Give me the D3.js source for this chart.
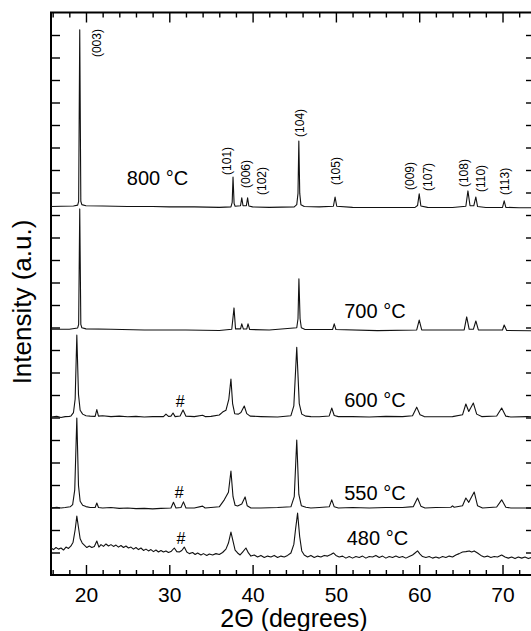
<!DOCTYPE html>
<html>
<head>
<meta charset="utf-8">
<script src="https://cdn.jsdelivr.net/npm/d3@7"></script>
<style>
  body { margin: 0; overflow: hidden; background: #fff; }
  text { font-family: "Liberation Sans", Arial, Helvetica, sans-serif; fill: #000; }
</style>
</head>
<body>
<svg class="xrd"></svg>
<script>
'use strict';

// patterns: [2theta, intensity above the pattern's own baseline] (a.u.)
var temperatures = ['800', '700', '600', '550', '480'];
var offsets = [163.6, 108.9, 70.2, 29.8, 11.1];

var pattern800 = [
  [15.8, 0.2], [17, 0.3], [18.5, 0.4], [19.0, 0.8], [19.12, 2.5], [19.25, 78.7], [19.38, 2.5], [19.5, 1.0],
  [20, 0.5], [22, 0.4], [25, 0.2], [28, 0.2], [30, 0], [33, 0], [36, -0.2], [37.4, 0], [37.55, 2],
  [37.65, 13.3], [37.78, 1.5], [37.9, 0.3], [38.55, 0.5], [38.7, 4], [38.85, 0.5], [39.25, 0.5], [39.4, 4],
  [39.55, 0.4], [40, 0], [42, -0.2], [45, 0], [45.3, 1], [45.45, 6], [45.55, 29.3], [45.66, 6], [45.8, 1],
  [46.2, 0.2], [48, 0], [49.7, 0.3], [49.9, 4.4], [50.1, 0.3], [52, -0.2], [55, -0.3], [59.5, -0.2],
  [59.8, 0.6], [60.0, 5.8], [60.2, 0.4], [61, -0.2], [64, -0.3], [65.6, 0.3], [65.85, 7.1], [66.1, 0.5],
  [66.55, 0.5], [66.8, 4.4], [67.0, 0.2], [68, -0.3], [70, -0.2], [70.2, 2.7], [70.4, -0.2], [72, -0.4], [73.9, -0.4]
];

var pattern700 = [
  [15.8, 0.3], [18, 0.3], [19.0, 0.9], [19.12, 2.5], [19.25, 53.8], [19.38, 2.5], [19.5, 1], [20, 0.5],
  [23, 0.3], [27, 0], [32, 0], [36, -0.2], [37.5, 0.3], [37.77, 9.8], [37.95, 0.5], [38.55, 0.5],
  [38.7, 2.7], [38.9, 0.4], [39.3, 0.5], [39.45, 2.7], [39.65, 0.2], [42, 0], [45.3, 1], [45.45, 5],
  [45.56, 22.7], [45.7, 5], [45.85, 1], [46.3, 0.2], [49.6, 0.2], [49.8, 2.7], [50.0, 0.2], [55, -0.3],
  [59.7, 0], [60.0, 4.4], [60.3, 0], [65.4, 0], [65.7, 5.8], [66.0, 0.3], [66.5, 0.3], [66.8, 4],
  [67.1, 0], [70.0, 0], [70.2, 2.2], [70.5, -0.2], [73.9, -0.4]
];

var pattern600 = [
  [15.8, 0], [16.5, 0.3], [17, -0.2], [17.5, 0.2], [18, 0.3], [18.2, 0.5], [18.5, 2], [18.7, 8],
  [18.9, 36.4], [19.1, 10], [19.3, 3], [19.6, 1.3], [20, 0.6], [20.5, 0.4], [21.1, 0.3], [21.3, 3.3],
  [21.5, 0.4], [22, 0.6], [23, 0.2], [24, 0.4], [25, 0.1], [26, 0.3], [27, 0], [28, 0.2], [29.3, 0.2],
  [29.6, 1.3], [29.9, 0.3], [30.2, 0.4], [30.45, 1.8], [30.7, 0.2], [31.3, 0.5], [31.65, 3.1], [32, 0.4],
  [33, 0.2], [34, 0.8], [34.3, 0.2], [35, 0.3], [36, 0.9], [36.4, 2.2], [36.8, 3], [37.15, 8],
  [37.4, 16.9], [37.6, 6], [37.85, 1.5], [38.3, 1.3], [38.6, 2], [39.0, 4.9], [39.3, 1.5], [39.7, 0.4],
  [41, 0.2], [43, 0], [44.6, 0.6], [44.95, 5], [45.3, 31], [45.6, 6], [45.9, 1.3], [46.4, 0.4], [47, 0.2],
  [48, 0.1], [49.2, 0.5], [49.5, 4], [49.8, 0.7], [50.3, 0.2], [52, 0.2], [54, 0], [56, 0.3], [58, 0.2],
  [59.2, 0.6], [59.7, 4.4], [60.1, 1], [60.6, 0.2], [62, 0.1], [64, 0.2], [65.2, 1], [65.6, 5.8],
  [65.95, 2.5], [66.5, 6.2], [66.9, 1.3], [67.5, 0.2], [69.3, 0.5], [69.9, 4], [70.4, 0.4], [71, 0],
  [73, 0.2], [73.9, 0]
];

var pattern550 = [
  [15.8, 0], [16.5, 0.3], [17, 0], [17.5, 0.2], [18.1, 0.5], [18.4, 1.5], [18.65, 8], [18.9, 40],
  [19.1, 10], [19.3, 3], [19.6, 1.2], [20, 0.6], [20.5, 0.2], [21.1, 0.2], [21.3, 2.2], [21.5, 0.2],
  [22, 0], [23, 0.2], [24, -0.2], [25, 0], [26, -0.3], [27, -0.2], [28, -0.4], [29, -0.2], [30.2, 0],
  [30.5, 2.5], [30.8, 0], [31.4, 0.2], [31.7, 2.7], [32, 0], [33, 0], [34, 0.8], [34.3, 0], [35, 0.2],
  [36, 0.5], [36.6, 3.6], [37.1, 7], [37.4, 16.4], [37.65, 5], [37.9, 1.2], [38.2, 0.9], [38.7, 1.8],
  [39.1, 4.9], [39.35, 1], [39.8, 0], [41, 0], [43, 0.2], [44.6, 0.5], [45.0, 5], [45.3, 30.2],
  [45.55, 6], [45.85, 1], [46.4, 0.3], [47, 0], [48, 0.2], [49.2, 0.5], [49.5, 3.6], [49.8, 0.5],
  [50.3, 0], [52, 0.2], [54, 0], [56, 0.2], [58, 0.2], [59.3, 0.6], [59.8, 4.4], [60.2, 0.8], [60.7, 0],
  [62, 0.2], [63.8, 0.3], [64.0, 0.9], [64.2, 0.3], [65.2, 1], [65.6, 4.4], [65.95, 2.5], [66.6, 7.1],
  [67, 1], [67.6, 0], [69.3, 0.4], [69.9, 3.6], [70.4, 0.3], [71, 0], [73, 0], [73.9, -0.2]
];

var pattern480 = [
  [15.8, 0.9], [16.1, 0.2], [16.4, 1.1], [16.7, 0.4], [17.0, 0.9], [17.3, 0.0], [17.6, 1.3], [17.9, 0.7],
  [18.2, 1.8], [18.45, 3.5], [18.7, 9], [18.9, 15.1], [19.1, 10], [19.3, 5], [19.55, 3.1], [19.8, 2.2],
  [20.1, 1.1], [20.4, 1.8], [20.7, 1.1], [21.0, 1.6], [21.3, 4.0], [21.55, 1.3], [21.8, 2.4], [22.1, 1.6],
  [22.4, 2.7], [22.7, 1.8], [23.0, 2.4], [23.3, 1.6], [23.6, 2.2], [23.9, 1.3], [24.2, 2.0], [24.5, 1.1],
  [24.8, 1.8], [25.1, 0.9], [25.4, 1.3], [25.7, 0.4], [26.0, 1.1], [26.3, 0.2], [26.6, 0.9], [26.9, -0.2],
  [27.2, 0.4], [27.5, -0.4], [27.8, 0.2], [28.1, -0.7], [28.4, 0.0], [28.7, -0.9], [29.0, -0.2],
  [29.3, -0.9], [29.6, -0.4], [29.9, -1.1], [30.2, -0.7], [30.6, 0.9], [30.9, -0.7], [31.2, -0.9],
  [31.5, -0.2], [31.8, 1.3], [32.1, -0.9], [32.4, -1.6], [32.8, -1.1], [33.1, -2.0], [33.4, -1.3],
  [33.8, -2.2], [34.1, -1.6], [34.5, -2.4], [34.8, -1.8], [35.2, -2.2], [35.6, -1.6], [36.0, -2.0],
  [36.4, -1.1], [36.8, 0.4], [37.1, 3.1], [37.4, 8.0], [37.65, 4.0], [37.9, 0.0], [38.2, -1.3],
  [38.5, -2.2], [38.8, -0.9], [39.2, 0.9], [39.5, -1.3], [39.8, -2.7], [40.2, -2.2], [40.6, -3.1],
  [41.0, -2.4], [41.4, -3.3], [41.8, -2.7], [42.2, -3.1], [42.6, -2.4], [43.0, -3.3], [43.4, -2.7],
  [43.8, -3.1], [44.2, -2.4], [44.6, -1.3], [44.95, 2.5], [45.15, 9], [45.4, 16.4], [45.65, 6],
  [45.9, -0.4], [46.2, -2.2], [46.6, -3.1], [47.0, -2.4], [47.4, -3.3], [47.8, -2.7], [48.2, -3.1],
  [48.6, -2.4], [49.0, -2.7], [49.4, -2.0], [49.7, -1.3], [50.0, -2.4], [50.4, -3.1], [50.8, -2.7],
  [51.2, -3.6], [51.6, -2.9], [52.0, -3.6], [52.4, -2.9], [52.8, -3.3], [53.2, -2.7], [53.6, -3.6],
  [54.0, -2.9], [54.4, -3.1], [54.8, -2.4], [55.2, -3.3], [55.6, -2.7], [56.0, -3.6], [56.4, -2.9],
  [56.8, -3.3], [57.2, -2.7], [57.6, -3.3], [58.0, -2.9], [58.4, -3.6], [58.8, -2.9], [59.2, -2.2],
  [59.5, -1.3], [59.8, -0.4], [60.1, -1.8], [60.4, -2.9], [60.8, -3.3], [61.2, -2.9], [61.6, -3.6],
  [62.0, -3.1], [62.4, -3.6], [62.8, -2.9], [63.2, -3.3], [63.6, -2.7], [64.0, -3.1], [64.4, -2.2],
  [64.8, -1.6], [65.2, -0.9], [65.6, -0.7], [66.0, -0.4], [66.3, -0.9], [66.6, -0.4], [67.0, -1.3],
  [67.4, -2.4], [67.8, -3.1], [68.2, -2.7], [68.6, -3.3], [69.0, -2.9], [69.4, -3.1], [69.9, -2.2],
  [70.3, -3.1], [70.7, -3.6], [71.1, -3.1], [71.5, -3.8], [71.9, -3.1], [72.3, -3.6], [72.7, -3.1],
  [73.1, -3.8], [73.5, -3.3], [73.9, -3.6]
];

var patterns = [pattern800, pattern700, pattern600, pattern550, pattern480];

// reflection labels on the 800 C pattern: [hkl, 2theta, bottom of label (a.u.)]
var reflections = [
  ['(003)', 21.3, 230.2], ['(101)', 36.9, 177.8], ['(006)', 39.2, 172.0], ['(102)', 41.1, 168.9],
  ['(104)', 45.7, 194.7], ['(105)', 50.0, 173.3], ['(009)', 58.9, 171.1], ['(107)', 61.1, 170.7],
  ['(108)', 65.4, 172.4], ['(110)', 67.4, 170.2], ['(113)', 70.3, 168.9]
];

// temperature labels: [2theta of text start, baseline (a.u.)]
var tempLabelPos = [[24.9, 173.3], [51.0, 114.2], [51.0, 74.7], [51.0, 33.3], [51.3, 13.3]];

// impurity marks
var hashMarks = [[31.3, 74.7], [31.2, 34.2], [31.4, 13.8]];

var xMajor = [20, 30, 40, 50, 60, 70];
var xMinor = [16, 18, 22, 24, 26, 28, 32, 34, 36, 38, 42, 44, 46, 48, 52, 54, 56, 58, 62, 64, 66, 68, 72];
var yTicks = d3.range(10, 250, 10);

var plotLeft = 51, plotRight = 535, plotTop = 12.5, plotBottom = 575;

var svg = d3.select('.xrd')
    .attr('width', 545)
    .attr('height', 631);

var x = d3.scaleLinear().domain([15.8, 73.9]).range([plotLeft, plotRight]);
var y = d3.scaleLinear().domain([0, 250]).range([plotBottom, plotTop]);

function styleAxis (g) {
    g.select('.domain').remove();
    g.selectAll('line').attr('stroke', '#000').attr('stroke-width', 1.4);
}

// x ticks, inward
svg.append('g')
    .attr('transform', 'translate(0,' + plotBottom + ')')
    .call(d3.axisBottom(x).tickValues(xMinor).tickSize(-5).tickFormat(''))
    .call(styleAxis);

svg.append('g')
    .attr('transform', 'translate(0,' + plotBottom + ')')
    .call(d3.axisBottom(x).tickValues(xMajor).tickSize(-10).tickPadding(12).tickFormat(d3.format('d')))
    .call(styleAxis)
    .selectAll('text')
    .attr('font-family', null)
    .style('font-size', '21px');

svg.append('g')
    .attr('transform', 'translate(0,' + plotTop + ')')
    .call(d3.axisTop(x).tickValues(xMinor).tickSize(-5).tickFormat(''))
    .call(styleAxis);

svg.append('g')
    .attr('transform', 'translate(0,' + plotTop + ')')
    .call(d3.axisTop(x).tickValues(xMajor).tickSize(-10).tickFormat(''))
    .call(styleAxis);

// y ticks, inward, no labels
svg.append('g')
    .attr('transform', 'translate(' + plotLeft + ',0)')
    .call(d3.axisLeft(y).tickValues(yTicks).tickSize(-9).tickFormat(''))
    .call(styleAxis);

svg.append('g')
    .attr('transform', 'translate(' + plotRight + ',0)')
    .call(d3.axisRight(y).tickValues(yTicks).tickSize(-9).tickFormat(''))
    .call(styleAxis);

// frame
svg.append('rect')
    .attr('x', plotLeft)
    .attr('y', plotTop)
    .attr('width', plotRight - plotLeft)
    .attr('height', plotBottom - plotTop)
    .attr('fill', 'none')
    .attr('stroke', '#000')
    .attr('stroke-width', 2);

var line = d3.line()
    .x(function (d) {return x(d[0]);})
    .y(function (d) {return y(d[1]);});

svg.selectAll('path.pattern')
    .data(patterns)
    .enter().append('path')
    .attr('class', 'pattern')
    .attr('d', function (d, i) {
        return line(d.map(function (p) {return [p[0], p[1] + offsets[i]];}));
    })
    .attr('fill', 'none')
    .attr('stroke', '#111')
    .attr('stroke-width', 1.1)
    .attr('stroke-linejoin', 'round');

svg.selectAll('text.hkl')
    .data(reflections)
    .enter().append('text')
    .attr('class', 'hkl')
    .attr('transform', function (d) {return 'translate(' + (x(d[1]) + 4) + ',' + y(d[2]) + ') rotate(-90)';})
    .style('font-size', '12px')
    .text(function (d) {return d[0];});

svg.selectAll('text.temp')
    .data(temperatures)
    .enter().append('text')
    .attr('class', 'temp')
    .attr('x', function (d, i) {return x(tempLabelPos[i][0]);})
    .attr('y', function (d, i) {return y(tempLabelPos[i][1]);})
    .style('font-size', '20px')
    .text(function (d) {return d + ' \u00b0C';});

svg.selectAll('text.hash')
    .data(hashMarks)
    .enter().append('text')
    .attr('class', 'hash')
    .attr('x', function (d) {return x(d[0]);})
    .attr('y', function (d) {return y(d[1]);})
    .attr('text-anchor', 'middle')
    .style('font-size', '16px')
    .text('#');

svg.append('text')
    .attr('x', 294)
    .attr('y', 627)
    .attr('text-anchor', 'middle')
    .style('font-size', '25px')
    .text('2\u0398 (degrees)');

svg.append('text')
    .attr('transform', 'translate(31,302) rotate(-90)')
    .attr('text-anchor', 'middle')
    .style('font-size', '26px')
    .text('Intensity (a.u.)');
</script>
</body>
</html>
